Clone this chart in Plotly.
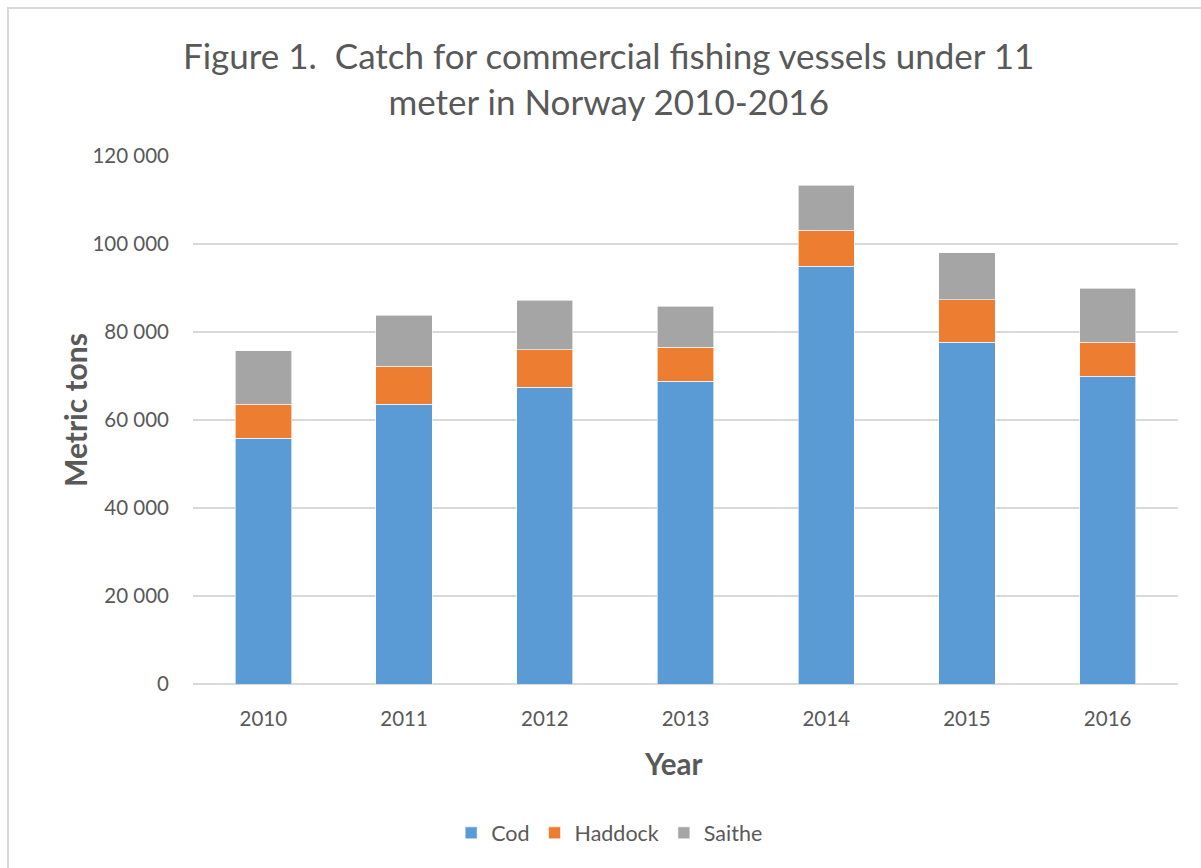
import plotly.graph_objects as go

years = ["2010", "2011", "2012", "2013", "2014", "2015", "2016"]
cod = [55800, 63600, 67400, 68800, 95000, 77700, 70000]
haddock = [7800, 8600, 8600, 7700, 8100, 9600, 7700]
saithe = [12100, 11600, 11200, 9300, 10200, 10700, 12300]

series = [("Cod", cod, "#5B9BD5"), ("Haddock", haddock, "#ED7D31"), ("Saithe", saithe, "#A5A5A5")]
title_text = "Figure 1.  Catch for commercial fishing vessels under 11<br>meter in Norway 2010-2016"
x_title = "<b>Year</b>"
y_title = "<b>Metric tons</b>"

FONT = "Lato"
GREY = "#595959"

fig = go.Figure()
for name, vals, col in series:
    fig.add_trace(go.Bar(x=years, y=vals, name=name, marker=dict(color=col, line=dict(color="#FFFFFF", width=0.6))))

fig.update_layout(
    barmode="stack",
    bargap=0.6,
    width=1201, height=868,
    margin=dict(l=193, r=23, t=156, b=184),
    paper_bgcolor="white", plot_bgcolor="white",
    separators=". ",
    font=dict(family=FONT, color=GREY, size=20.5),
    xaxis=dict(showgrid=False, showline=False, ticks="", ticklabelstandoff=20,
               tickfont=dict(size=20.5, color=GREY)),
    yaxis=dict(range=[0, 120000], dtick=20000, tickformat=",d",
               showgrid=True, gridcolor="#D9D9D9", gridwidth=1.5,
               zeroline=True, zerolinecolor="#D9D9D9", zerolinewidth=1.5,
               ticks="", ticklabelstandoff=23, tickfont=dict(size=20.5, color=GREY)),
    legend=dict(orientation="h", x=0.423, xanchor="center", y=-0.282, yanchor="middle",
                font=dict(size=21.5, color=GREY), traceorder="normal", itemwidth=30),
    annotations=[
        dict(text=title_text, xref="paper", yref="paper", x=(608.5 - 193) / 985, xanchor="center",
             y=(684 - 77.5) / 528, yanchor="middle", showarrow=False,
             font=dict(family=FONT, size=35, color=GREY)),
        dict(text=x_title, xref="paper", yref="paper", x=(673.5 - 193) / 985, xanchor="center",
             y=(684 - 763) / 528, yanchor="middle", showarrow=False,
             font=dict(family=FONT, size=29.5, color=GREY)),
        dict(text=y_title, xref="paper", yref="paper", x=(75 - 193) / 985, xanchor="center",
             y=(684 - 410) / 528, yanchor="middle", showarrow=False, textangle=-90,
             font=dict(family=FONT, size=30, color=GREY)),
    ],
    shapes=[dict(type="rect", xref="paper", yref="paper", x0=(8-193)/985, x1=1.3, y0=-0.6, y1=(684-8)/528,
                 line=dict(color="#D9D9D9", width=2), fillcolor="rgba(0,0,0,0)", layer="below")],
)

fig.write_html("out.html")
